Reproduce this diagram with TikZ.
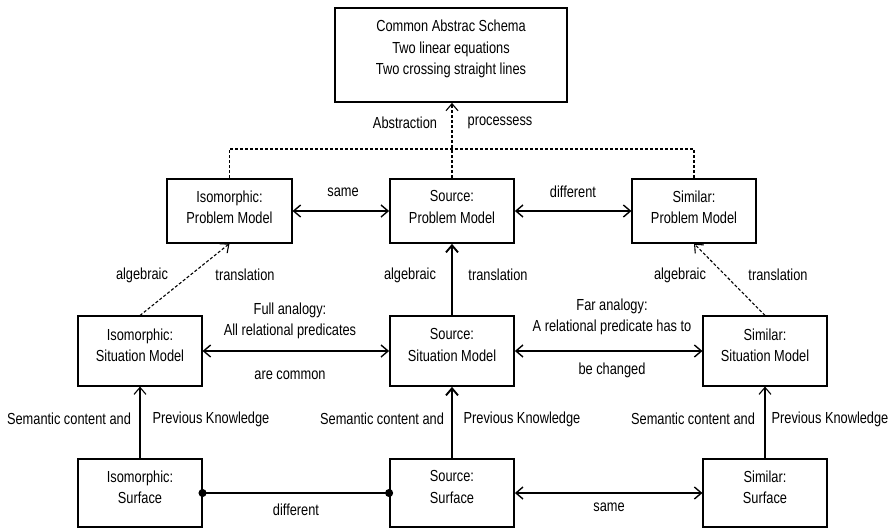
\documentclass[tikz,border=0pt]{standalone}
\usepackage{fontspec}
\setmainfont{Liberation Sans}[FakeStretch=0.8]
\usetikzlibrary{arrows.meta}
\newcommand{\boxlift}[1]{\rule[-#1]{0pt}{#1}}

\begin{document}
\begin{tikzpicture}[x=1pt,y=-1pt,line width=1.1pt,font=\fontsize{16}{21.5}\selectfont,
	>={Straight Barb[length=7pt,width=12pt]},
	box/.style={draw,align=center,minimum width=124pt,inner sep=0pt},
	srcbox/.style={box,line width=1.8pt},
	dashline/.style={dash pattern=on 3pt off 2pt},
	dot/.style={{Circle[length=8pt]}-{Circle[length=8pt]},shorten <=-4pt,shorten >=-4pt},
	lbl/.style={inner sep=0pt,align=center}]
\useasboundingbox (0,0) rectangle (894,528);
%top box
 \node[srcbox,minimum width=232pt,minimum height=94pt] (schema) at (451,55) {Common Abstrac Schema\\Two linear equations\\Two crossing straight lines\boxlift{15pt}};
%problem models
	\node[box,minimum width=125pt,minimum height=64pt] (isoprob) at (229.5,211) {Isomorphic:\\Problem Model\boxlift{8pt}}; %iso
	\node[srcbox,minimum height=64pt] (srcprob) at (452,211) {Source:\\Problem Model\boxlift{8pt}}; %source
	\node[box,minimum height=64pt] (simprob) at (694,211) {Similar:\\Problem Model\boxlift{8pt}}; %similar
%situation models
	\node[box,minimum height=70pt] (isosit) at (140,351) {Isomorphic:\\Situation Model\boxlift{12pt}}; %iso
	\node[srcbox,minimum height=70pt] (srcsit) at (452,351) {Source:\\Situation Model\boxlift{12pt}}; %source
	\node[box,minimum height=70pt] (simsit) at (765,351) {Similar:\\Situation Model\boxlift{12pt}}; %similar
%surfaces
	\node[box,minimum height=68pt] (isosurf) at (140,493) {Isomorphic:\\Surface\boxlift{12pt}}; %iso
	\node[srcbox,minimum height=68pt] (srcsurf) at (452,493) {Source:\\Surface\boxlift{12pt}}; %source
	\node[box,minimum height=68pt] (simsurf) at (765,493) {Similar:\\Surface\boxlift{12pt}}; %similar

%abstraction lines
	\coordinate (junc) at (452,149);
	\draw[dashline] (isoprob.north) |- (junc) -| (simprob.north); %top dashed line
	\draw[dashline,->] (srcprob.north) -- (srcprob.north |- schema.south); %up to schema
	\node[lbl] (abstr) at (405,123) {Abstraction};
	\node[lbl] (proc) at (500,123) {processess};

%horizontal arrows
	\draw[<->,line width=1.4pt] (isoprob) -- (srcprob); %same
	\draw[<->,line width=1.4pt] (srcprob) -- (simprob); %different
	\draw[<->,line width=1.4pt] (isosit) -- (srcsit); %full analogy
	\draw[<->,line width=1.4pt] (srcsit) -- (simsit); %far analogy
	\draw[dot,line width=1.4pt] (isosurf) -- (srcsurf); %different
	\draw[<->,line width=1.4pt] (srcsurf) -- (simsurf); %same
	\node[lbl] (same1) at (343,192) {same};
	\node[lbl] (diff1) at (573,192) {different};
	\node[lbl] (full) at (290,321) {Full analogy:\\All relational predicates};
	\node[lbl] (fullb) at (290,375) {are common};
	\node[lbl] (far) at (612,317) {Far analogy:\\A relational predicate has to};
	\node[lbl] (farb) at (612,370) {be changed};
	\node[lbl] (diff2) at (296,510) {different};
	\node[lbl] (same2) at (609,507) {same};

%translation arrows
	\draw[dashline,->] (isosit.north) -- (isoprob.south); %iso
	\draw[->,line width=1.9pt] (srcsit) -- (srcprob); %source
	\draw[dashline,->] (simsit.north) -- (simprob.south); %similar
	\node[lbl] (isoalg) at (142,275) {algebraic};
	\node[lbl] (isotr) at (245,275) {translation};
	\node[lbl] (srcalg) at (410,275) {algebraic};
	\node[lbl] (srctr) at (498,275) {translation};
	\node[lbl] (simalg) at (680,275) {algebraic};
	\node[lbl] (simtr) at (778,275) {translation};

%knowledge arrows
	\draw[->] (isosurf) -- (isosit); %iso
	\draw[->,line width=1.9pt] (srcsurf) -- (srcsit); %source
	\draw[->] (simsurf) -- (simsit); %similar
	\node[lbl] (isosem) at (69,419) {Semantic content and};
	\node[lbl] (isoprev) at (211,419) {Previous Knowledge};
	\node[lbl] (srcsem) at (382,419) {Semantic content and};
	\node[lbl] (srcprev) at (522,419) {Previous Knowledge};
	\node[lbl] (simsem) at (693,419) {Semantic content and};
	\node[lbl] (simprev) at (830,419) {Previous Knowledge};
\end{tikzpicture}
\end{document}
